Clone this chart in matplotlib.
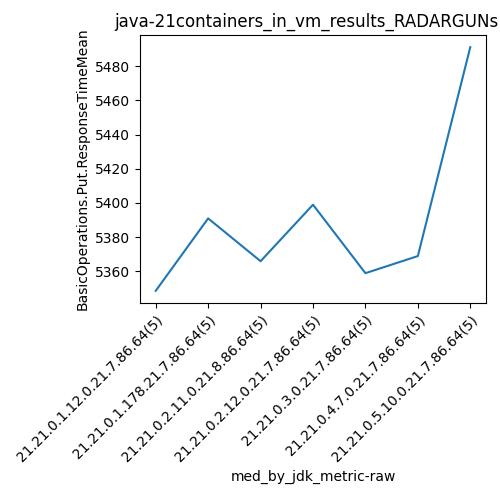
"""Line chart of RadarGun put response time by JDK build"""

import matplotlib

matplotlib.use("Agg")
import matplotlib.pyplot as plt

builds = [
    "21.21.0.1.12.0.21.7.86.64(5)",
    "21.21.0.1.178.21.7.86.64(5)",
    "21.21.0.2.11.0.21.8.86.64(5)",
    "21.21.0.2.12.0.21.7.86.64(5)",
    "21.21.0.3.0.21.7.86.64(5)",
    "21.21.0.4.7.0.21.7.86.64(5)",
    "21.21.0.5.10.0.21.7.86.64(5)",
]
response_mean = [5348.7, 5391.0, 5366.0, 5399.0, 5359.0, 5369.0, 5491.0]

fig, ax = plt.subplots(figsize=(5, 5), dpi=100)
ax.plot(builds, response_mean)
# title sits a bit left of centre, like the reference
ax.set_title("java-21containers_in_vm_results_RADARGUNs", loc="left", x=-0.075)
ax.set_xlabel("med_by_jdk_metric-raw")
ax.set_ylabel("BasicOperations.Put.ResponseTimeMean")
plt.setp(ax.get_xticklabels(), rotation=45, ha="right", rotation_mode="anchor")

fig.subplots_adjust(left=0.28, right=0.972, top=0.93, bottom=0.394)
fig.savefig("out.png")
